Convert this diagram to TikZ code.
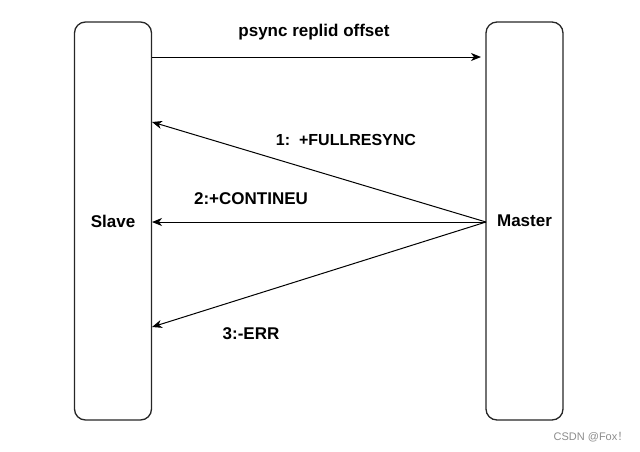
\documentclass[tikz,border=0pt]{standalone}
\usepackage{fontspec}
\setmainfont{Liberation Sans}
\newfontfamily\cjk{Noto Sans CJK SC}
\usetikzlibrary{arrows.meta}
\begin{document}
\begin{tikzpicture}[x=1pt,y=-1pt,
  box/.style={draw=black!85,line width=1.3pt,rounded corners=11pt,minimum width=77pt,minimum height=398pt,inner sep=0pt,font=\bfseries\fontsize{17}{20}\selectfont},
  conn/.style={draw=black,line width=1pt,-{Stealth[length=10pt,width=8pt,inset=3pt]}},
  lbl/.style={font=\bfseries\fontsize{17}{20}\selectfont,inner sep=0pt}]
\useasboundingbox (0,0) rectangle (640,451);
\node[box] (slave) at (113,221) {Slave};
\node[box] (master) at (524.5,221) {Master};
\coordinate (s1) at (152,57);
\coordinate (m1) at (481,57);
\coordinate (mo) at (486,222);
\coordinate (t1) at (152,122);
\coordinate (t2) at (152,222);
\coordinate (t3) at (152,327);
\draw[conn] (s1) -- (m1);
\draw[conn] (mo) -- (t1);
\draw[conn] (mo) -- (t2);
\draw[conn] (mo) -- (t3);
\node[lbl] (l0) at (314,32) {psync replid offset};
\node[lbl,font=\bfseries\fontsize{16}{20}\selectfont] (l1) at (346,140) {1:\ \ +FULLRESYNC};
\node[lbl] (l2) at (251,199) {2:+CONTINEU};
\node[lbl] (l3) at (251,334) {3:-ERR};
\node[inner sep=0pt,text=black!45,font=\fontsize{11}{13}\selectfont] (wm) at (591,437) {CSDN @Fox{\cjk ！}};
\end{tikzpicture}
\end{document}
